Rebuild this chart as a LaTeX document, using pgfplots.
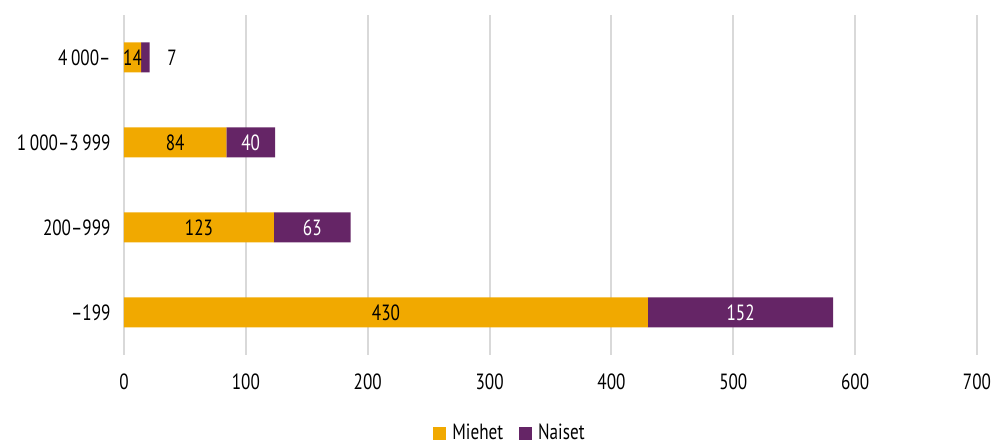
\documentclass[border=0pt]{standalone}
\usepackage{fontspec}
\setmainfont{PT Sans}[FakeStretch=0.78]
\usepackage{pgfplots}
\pgfplotsset{compat=1.18}
\definecolor{orangeM}{HTML}{F1A900}
\definecolor{purpleN}{HTML}{652566}
\definecolor{gridc}{HTML}{D9D9D9}
\newcommand{\fs}{\fontsize{22}{26}\selectfont}
\begin{document}
\begin{tikzpicture}
\path[use as bounding box] (0,0) rectangle (993pt,446pt);
\begin{axis}[
  at={(124pt,91pt)}, anchor=south west,
  scale only axis, width=853pt, height=340pt,
  xbar stacked, bar width=30pt,
  xmin=0, xmax=700, ymin=-0.5, ymax=3.5,
  xtick={0,100,...,700},
  ytick={0,1,2,3},
  yticklabels={--199, 200--999, 1\,000--3\,999, 4\,000--},
  axis line style={draw=none},
  major tick length=0pt,
  xmajorgrids, grid style={gridc, line width=2pt},
  ymajorgrids=false,
  tick label style={font=\fs, text=black},
  /pgf/number format/assume math mode=true,
  xticklabel style={yshift=-15pt},
  yticklabel style={xshift=-10pt},
  point meta=explicit symbolic,
  nodes near coords,
  every node near coord/.append style={font=\fs},
  legend style={at={(0.4525,-0.228)}, anchor=center, draw=none, legend columns=2,
    font=\fs, inner sep=0pt, column sep=4pt,
    /tikz/every even column/.append style={column sep=14pt}},
  legend image code/.code={\fill[#1] (0pt,-7pt) rectangle (13pt,6pt);},
]
\addplot[fill=orangeM, draw=none, every node near coord/.append style={text=black}]
  coordinates {(430,0) [430] (123,1) [123] (84,2) [84] (14,3) [14]};
\addlegendentry{Miehet}
\addplot[fill=purpleN, draw=none, every node near coord/.append style={text=white}]
  coordinates {(152,0) [152] (63,1) [63] (40,2) [40] (7,3) [\phantom{7}]};
\addlegendentry{Naiset}
\node[font=\fs, text=black] at (axis cs:39.5,3) {7};
\end{axis}
\end{tikzpicture}
\end{document}
